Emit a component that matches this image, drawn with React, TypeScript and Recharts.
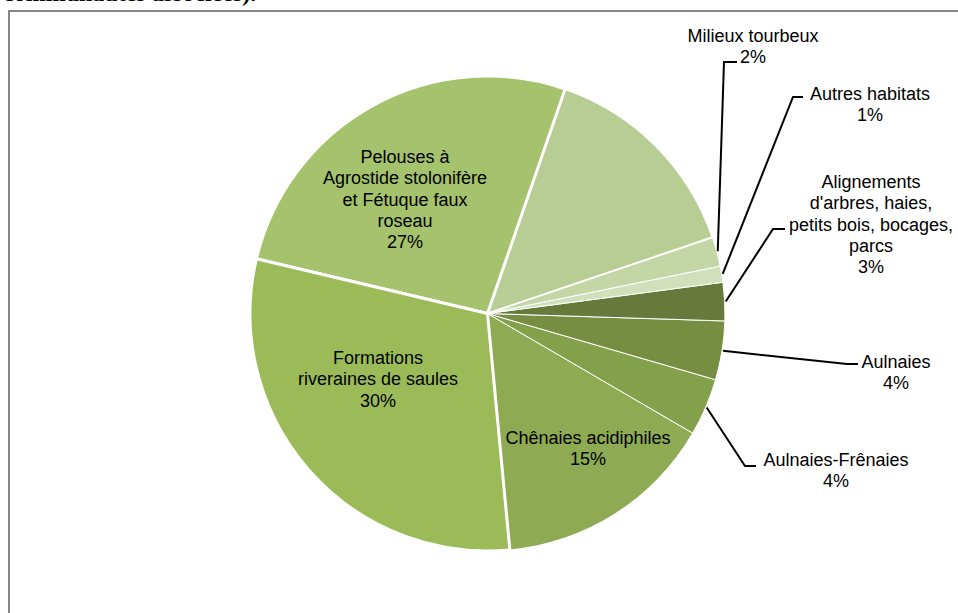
import { PieChart, Pie, Cell } from "recharts";

// slice order follows the chart, counter-clockwise from the bottom
const habitats = [
  "Chênaies acidiphiles",
  "Aulnaies-Frênaies",
  "Aulnaies",
  "Alignements d'arbres, haies, petits bois, bocages, parcs",
  "Autres habitats",
  "Milieux tourbeux",
  "",
  "Pelouses à Agrostide stolonifère et Fétuque faux roseau",
  "Formations riveraines de saules",
];
const shares = [15.1, 3.9, 4.0, 2.6, 1.1, 2.0, 14.5, 26.6, 30.2];

const labelLines: string[][] = [
  ["Chênaies acidiphiles"],
  ["Aulnaies-Frênaies"],
  ["Aulnaies"],
  ["Alignements", "d'arbres, haies,", "petits bois, bocages,", "parcs"],
  ["Autres habitats"],
  ["Milieux tourbeux"],
  [],
  ["Pelouses à", "Agrostide stolonifère", "et Fétuque faux", "roseau"],
  ["Formations", "riveraines de saules"],
];

const COLORS = [
  "#8eaa52",
  "#83a04b",
  "#778e42",
  "#687a3b",
  "#d1dfbb",
  "#c4d6a6",
  "#b8cd93",
  "#a5c26c",
  "#9bbb59",
];
const STROKES = [1, 1, 1, 1, 1, 1, 2, 3, 3];

// label placement relative to pie centre: text x / first line y, optional elbow + end of leader
const LAYOUT: { tx: number; ty: number; elbow?: [number, number]; endX?: number }[] = [
  { tx: 100.5, ty: 124.5 },
  { tx: 348.5, ty: 146.5, elbow: [257.5, 152.5], endX: 268.5 },
  { tx: 408.5, ty: 48.5, elbow: [359.5, 50.5], endX: 370.5 },
  { tx: 383.5, ty: -131.5, elbow: [285.5, -84.5], endX: 297.5 },
  { tx: 382.5, ty: -219.5, elbow: [305.5, -216.5], endX: 315.5 },
  { tx: 265.5, ty: -277.5, elbow: [236.5, -251.5], endX: 249.5 },
  { tx: 0, ty: 0 },
  { tx: -82.5, ty: -156.5 },
  { tx: -109.5, ty: 44.5 },
];

const data = habitats.map((name, i) => ({ name, value: shares[i] }));

const RAD = Math.PI / 180;
const LINE_H = 21.3;

function renderLabel(props: any) {
  const { cx, cy, midAngle, outerRadius, percent, index } = props;
  const lines = labelLines[index];
  if (!lines.length) return null;
  const lay = LAYOUT[index];
  const all = [...lines, `${Math.round(percent * 100)}%`];
  let leader = null;
  if (lay.elbow) {
    const sx = cx + (outerRadius + 1) * Math.cos(-midAngle * RAD);
    const sy = cy + (outerRadius + 1) * Math.sin(-midAngle * RAD);
    const ex = cx + lay.elbow[0];
    const ey = cy + lay.elbow[1];
    leader = (
      <polyline
        points={`${sx},${sy} ${ex},${ey} ${cx + (lay.endX as number)},${ey}`}
        fill="none"
        stroke="#000"
        strokeWidth={2}
      />
    );
  }
  return (
    <g key={`lbl-${index}`}>
      {leader}
      <text
        x={cx + lay.tx}
        y={cy + lay.ty}
        textAnchor="middle"
        dominantBaseline="central"
        fill="#000"
        fontSize={18}
        fontFamily="'Liberation Sans', Arial, sans-serif"
      >
        {all.map((t, j) => (
          <tspan key={j} x={cx + lay.tx} y={cy + lay.ty + j * LINE_H}>
            {t}
          </tspan>
        ))}
      </text>
    </g>
  );
}

export default function App() {
  return (
    <div
      style={{
        position: "absolute",
        left: 0,
        top: 0,
        width: 958,
        height: 613,
        overflow: "hidden",
        background: "#fff",
      }}
    >
      <div
        style={{
          position: "absolute",
          left: 3,
          top: -21,
          fontFamily: "'Liberation Serif', 'Times New Roman', serif",
          fontWeight: "bold",
          fontSize: 24,
          lineHeight: "28px",
          whiteSpace: "nowrap",
        }}
      >
        communautés associées).
      </div>
      <div
        style={{
          position: "absolute",
          left: 8,
          top: 10,
          width: 960,
          height: 620,
          borderTop: "2px solid #878787",
          borderLeft: "2px solid #878787",
        }}
      />
      <div style={{ position: "absolute", left: 0, top: 0 }}>
        <PieChart width={958} height={613} margin={{ top: 0, right: 0, bottom: 0, left: 0 }}>
          <Pie
            data={data}
            dataKey="value"
            nameKey="name"
            cx={487.5}
            cy={313.5}
            outerRadius={237.5}
            startAngle={-84.6}
            endAngle={275.4}
            label={renderLabel}
            labelLine={false}
            isAnimationActive={false}
          >
            {data.map((d, i) => (
              <Cell key={i} fill={COLORS[i]} stroke="#fff" strokeWidth={STROKES[i]} />
            ))}
          </Pie>
        </PieChart>
      </div>
    </div>
  );
}
